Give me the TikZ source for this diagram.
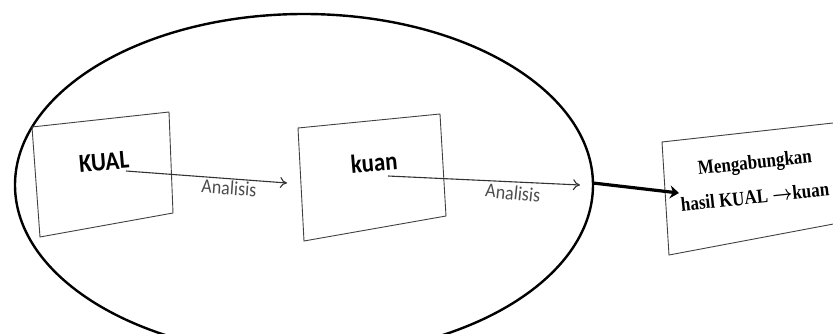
\documentclass[tikz,border=0pt]{standalone}
\usepackage{fontspec}
\setmainfont{Liberation Serif}
\newfontfamily\calib{Carlito}
\usetikzlibrary{positioning, calc, arrows.meta}

\begin{document}
\begin{tikzpicture}[
        x=1pt, y=1pt,
        sheet/.style={draw=black!75, line width=0.9pt},
        tag/.style={font=\calib\bfseries\fontsize{26}{28}\selectfont, inner sep=1pt},
        lbl/.style={font=\calib\fontsize{20}{22}\selectfont, text=black!70, inner sep=1pt},
        note/.style={font=\bfseries\fontsize{20}{22}\selectfont, rotate=6, inner sep=1pt},
        flow/.style={draw=black!80, line width=1.1pt, -{To[length=7pt, width=11pt]}},
        bigflow/.style={draw=black, line width=3.2pt, -{Stealth[length=9pt, width=13pt]}}
    ]
        \useasboundingbox (0,0) rectangle (833,333);
        \clip (0,0) rectangle (833,333);

        % Big ellipse
        \draw[line width=2.4pt] (304,148) ellipse [x radius=289, y radius=171];
        \coordinate (rim) at (593,150);

        % Sheets
        \draw[sheet] (32,206) -- (169,221) -- (173,120) -- (40,96) -- cycle;
        \draw[sheet] (298,205) -- (440,219) -- (446,117) -- (304,92) -- cycle;
        \draw[sheet] (662,191) -- (860,213) -- (860,114) -- (669,78) -- cycle;

        % Texts
        \node[tag, rotate=5] (kual) at (104,171) {\scalebox{0.88}[1]{KUAL}};
        \node[tag, rotate=5] (kuan) at (374,171) {\scalebox{0.88}[1]{kuan}};
        \node[note] (gabung) at (755,169) {\scalebox{0.85}[1]{Mengabungkan}};
        \node[note] (hasil) at (755,136)
            {\scalebox{0.85}[1]{hasil KUAL {\boldmath$\rightarrow$}kuan}};

        % Arrows
        \coordinate (a1s) at (126,162);
        \coordinate (a1e) at (287,150);
        \draw[flow] (a1s) -- (a1e);
        \node[lbl, rotate=-4] (an1) at (229,145) {\scalebox{0.9}[1]{Analisis}};

        \coordinate (a2s) at (388,157);
        \coordinate (a2e) at (580,148);
        \draw[flow] (a2s) -- (a2e);
        \node[lbl, rotate=-6] (an2) at (513,140) {\scalebox{0.9}[1]{Analisis}};

        \coordinate (a3e) at (679,140);
        \draw[bigflow] (rim) -- (a3e);

    \end{tikzpicture}
\end{document}
